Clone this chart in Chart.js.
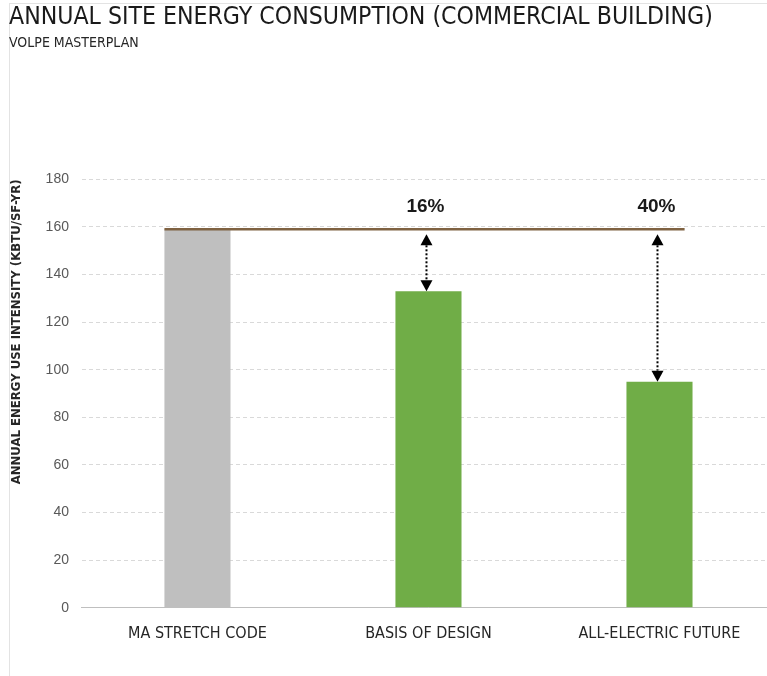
<!DOCTYPE html>
<html>
<head>
<meta charset="utf-8">
<script src="https://cdn.jsdelivr.net/npm/chart.js@4.4.1/dist/chart.umd.min.js"></script>
<style>
	html, body { margin: 0; padding: 0; background: #fff; overflow: hidden; }
	#moldura { position: absolute; left: 9px; top: 3px; right: 0; bottom: 0;
		border-left: 1px solid #e3e3e3; border-top: 1px solid #e3e3e3; }
	#grafico { position: absolute; left: 0; top: 0; width: 775px; height: 676px; }
</style>
</head>
<body>
<div id="moldura"></div>
<div id="grafico"><canvas id="graficoEnergia"></canvas></div>
<script>
var categorias = ['MA STRETCH CODE', 'BASIS OF DESIGN', 'ALL-ELECTRIC FUTURE'];
var valoresEui = [159, 133, 95];
var coresBarras = ['#bfbfbf', '#70ad47', '#70ad47'];

var fonteEstreita = '"Liberation Sans Narrow", "DejaVu Sans Condensed", sans-serif';
var fonteNormal = '"Liberation Sans", Arial, sans-serif';

// linha de referencia do codigo e setas com a reducao de cada cenario
var pluginReferencia = {
	id: 'linhaReferencia',
	afterDatasetsDraw: function(chart) {
		var ctx = chart.ctx;
		var y = chart.scales.y;
		var barras = chart.getDatasetMeta(0).data;
		var base = valoresEui[0];
		var yBase = y.getPixelForValue(base);
		var primeira = barras[0];
		var ultima = barras[barras.length - 1];

		ctx.save();
		ctx.strokeStyle = '#7f6242';
		ctx.lineWidth = 2.5;
		ctx.beginPath();
		ctx.moveTo(primeira.x - primeira.width / 2, yBase);
		ctx.lineTo(ultima.x + ultima.width * 0.38, yBase);
		ctx.stroke();

		for (var i = 1; i < barras.length; i++) {
			var barra = barras[i];
			var topo = y.getPixelForValue(valoresEui[i]);
			var ax = barra.x - 2;
			var pontaSup = yBase + 5;
			var seta = 11, meia = 6;

			ctx.strokeStyle = '#000';
			ctx.fillStyle = '#000';
			ctx.lineWidth = 2;
			ctx.setLineDash([2, 2]);
			ctx.beginPath();
			ctx.moveTo(ax, pontaSup + seta);
			ctx.lineTo(ax, topo - seta);
			ctx.stroke();
			ctx.setLineDash([]);

			ctx.beginPath();
			ctx.moveTo(ax, pontaSup);
			ctx.lineTo(ax - meia, pontaSup + seta);
			ctx.lineTo(ax + meia, pontaSup + seta);
			ctx.closePath();
			ctx.fill();

			ctx.beginPath();
			ctx.moveTo(ax, topo);
			ctx.lineTo(ax - meia, topo - seta);
			ctx.lineTo(ax + meia, topo - seta);
			ctx.closePath();
			ctx.fill();

			var reducao = Math.round((base - valoresEui[i]) / base * 100) + '%';
			ctx.font = 'bold 19px ' + fonteNormal;
			ctx.fillStyle = '#1a1a1a';
			ctx.textAlign = 'center';
			ctx.textBaseline = 'middle';
			ctx.fillText(reducao, barra.x - 3, yBase - 23);
		}
		ctx.restore();
	}
};

var graficoEnergia = new Chart(document.getElementById('graficoEnergia').getContext('2d'), {
	type: 'bar',
	data: {
		labels: categorias,
		datasets: [{
			label: 'EUI',
			data: valoresEui,
			backgroundColor: coresBarras,
			barPercentage: 0.286,
			categoryPercentage: 1
		}]
	},
	options: {
		responsive: true,
		maintainAspectRatio: false,
		animation: false,
		layout: { padding: { left: 9, right: 0, top: 0, bottom: 17 } },
		plugins: {
			legend: { display: false },
			tooltip: { enabled: false },
			title: {
				display: true,
				align: 'start',
				text: 'ANNUAL SITE ENERGY CONSUMPTION (COMMERCIAL BUILDING)',
				color: '#1a1a1a',
				font: { family: fonteEstreita, size: 24.6, weight: 'normal' },
				padding: { top: 3, bottom: 2 }
			},
			subtitle: {
				display: true,
				align: 'start',
				text: 'VOLPE MASTERPLAN',
				color: '#262626',
				font: { family: fonteEstreita, size: 14 },
				padding: { top: 0, bottom: 128 }
			}
		},
		scales: {
			x: {
				grid: { display: false, drawTicks: false },
				border: { display: true, color: '#bfbfbf', width: 1 },
				ticks: { color: '#262626', padding: 16, font: { family: fonteEstreita, size: 16 } }
			},
			y: {
				min: 0,
				max: 180,
				ticks: { stepSize: 20, color: '#595959', padding: 13, font: { family: fonteNormal, size: 14 } },
				grid: { color: '#d9d9d9', drawTicks: false },
				border: { display: false, dash: [4, 3] },
				title: {
					display: true,
					text: 'ANNUAL ENERGY USE INTENSITY (KBTU/SF-YR)',
					align: 'end',
					color: '#262626',
					font: { family: fonteEstreita, size: 13, weight: 'bold' },
					padding: { top: 0, bottom: 8 }
				}
			}
		}
	},
	plugins: [pluginReferencia]
});
</script>
</body>
</html>
